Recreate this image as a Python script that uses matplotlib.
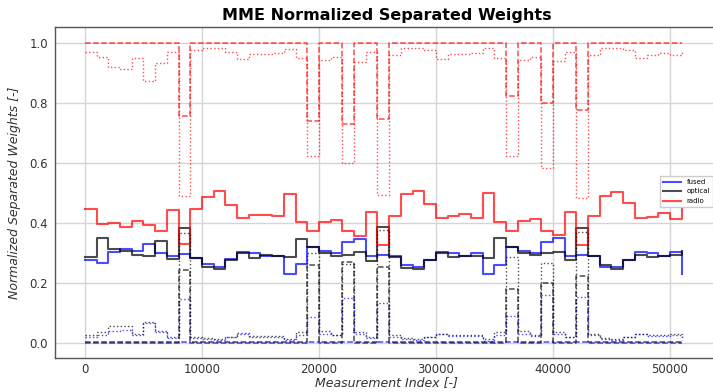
import numpy as np
import matplotlib
matplotlib.use("Agg")
import matplotlib.pyplot as plt

# measurement index of each step (steps of 1000 samples)
index = list(range(0, 52000, 1000))

# solid: normalized weights
fused = [0.276, 0.267, 0.303, 0.312, 0.307, 0.329, 0.300, 0.289, 0.296, 0.281, 0.261, 0.253, 0.278, 0.303, 0.300, 0.290, 0.289,
         0.228, 0.261, 0.318, 0.306, 0.300, 0.337, 0.345, 0.290, 0.292, 0.288, 0.260, 0.252, 0.276, 0.303, 0.298, 0.290, 0.300,
         0.228, 0.259, 0.318, 0.306, 0.300, 0.337, 0.348, 0.290, 0.291, 0.288, 0.252, 0.253, 0.276, 0.303, 0.298, 0.290, 0.303,
         0.230]
optical = [0.287, 0.348, 0.311, 0.306, 0.292, 0.289, 0.339, 0.278, 0.383, 0.281, 0.251, 0.244, 0.276, 0.298, 0.283, 0.292, 0.289,
           0.287, 0.346, 0.318, 0.300, 0.289, 0.292, 0.303, 0.273, 0.384, 0.284, 0.248, 0.244, 0.276, 0.298, 0.284, 0.289, 0.289,
           0.281, 0.348, 0.318, 0.300, 0.292, 0.298, 0.303, 0.276, 0.383, 0.289, 0.259, 0.246, 0.276, 0.292, 0.284, 0.289, 0.292,
           0.305]
radio = [0.444, 0.396, 0.398, 0.387, 0.407, 0.392, 0.372, 0.442, 0.329, 0.444, 0.484, 0.506, 0.459, 0.414, 0.426, 0.426, 0.422,
         0.496, 0.403, 0.373, 0.401, 0.409, 0.373, 0.357, 0.434, 0.326, 0.423, 0.494, 0.506, 0.462, 0.414, 0.422, 0.428, 0.414,
         0.498, 0.401, 0.373, 0.407, 0.411, 0.372, 0.359, 0.434, 0.326, 0.423, 0.489, 0.501, 0.464, 0.414, 0.420, 0.433, 0.411,
         0.465]

# dashed
fused_dashed = [0.0] * 8 + [0.003] + [0.0] * 10 + [0.003] + [0.0] * 2 + [0.003] + [0.0] * 2 + [0.003] + [0.0] * 10 + [0.003] + [0.0] * 2 + [0.003] + [0.0] * 2 + [0.003] + [0.0] * 9
optical_dashed = [0.001] * 8 + [0.242] + [0.001] * 10 + [0.260] + [0.001] * 2 + [0.268] + [0.001] * 2 + [0.253] + [0.001] * 10 + [0.178] + [0.001] * 2 + [0.200] + [0.001] * 2 + [0.222] + [0.001] * 9
radio_dashed = [1.0] * 8 + [0.757] + [1.0] * 10 + [0.740] + [1.0] * 2 + [0.729] + [1.0] * 2 + [0.744] + [1.0] * 10 + [0.822] + [1.0] * 2 + [0.800] + [1.0] * 2 + [0.776] + [1.0] * 9

# dotted
fused_dotted = [0.020, 0.026, 0.039, 0.042, 0.026, 0.065, 0.037, 0.017, 0.145, 0.015, 0.013, 0.009, 0.018, 0.028, 0.020, 0.020, 0.020,
                0.009, 0.026, 0.087, 0.028, 0.024, 0.150, 0.028, 0.017, 0.133, 0.020, 0.013, 0.010, 0.018, 0.028, 0.022, 0.022, 0.022,
                0.006, 0.025, 0.090, 0.030, 0.022, 0.159, 0.030, 0.018, 0.153, 0.025, 0.013, 0.010, 0.018, 0.028, 0.022, 0.022, 0.025,
                0.010]
optical_dotted = [0.026, 0.034, 0.056, 0.057, 0.028, 0.068, 0.039, 0.020, 0.365, 0.018, 0.017, 0.012, 0.020, 0.031, 0.023, 0.023, 0.023,
                  0.012, 0.035, 0.300, 0.039, 0.026, 0.262, 0.035, 0.020, 0.375, 0.026, 0.015, 0.012, 0.020, 0.030, 0.025, 0.025, 0.025,
                  0.012, 0.035, 0.287, 0.040, 0.026, 0.265, 0.035, 0.020, 0.370, 0.028, 0.017, 0.013, 0.020, 0.030, 0.025, 0.025, 0.028,
                  0.020]
radio_dotted = [0.968, 0.951, 0.920, 0.912, 0.950, 0.872, 0.931, 0.970, 0.490, 0.976, 0.981, 0.983, 0.970, 0.946, 0.961, 0.961, 0.964,
                0.979, 0.950, 0.623, 0.942, 0.953, 0.598, 0.934, 0.970, 0.492, 0.959, 0.983, 0.983, 0.976, 0.946, 0.961, 0.961, 0.964,
                0.983, 0.948, 0.623, 0.942, 0.953, 0.581, 0.939, 0.970, 0.481, 0.959, 0.983, 0.983, 0.976, 0.950, 0.959, 0.964, 0.959,
                0.976]

labels = ["fused", "optical", "radio"]
colors = ["blue", "black", "red"]

W, H = 713, 392
fig = plt.figure(figsize=(W / 100, H / 100), dpi=100)
ax = fig.add_axes([55 / W, 1 - 358 / H, (718 - 55) / W, (358 - 27) / H])

alpha = 0.7
for vals, c, lab in zip([fused, optical, radio], colors, labels):
    ax.step(index, vals, where="post", color=c, lw=1.5, alpha=alpha, label=lab)
for vals, c in zip([fused_dashed, optical_dashed, radio_dashed], colors):
    ax.step(index, vals, where="post", color=c, lw=1.1, ls="--", alpha=alpha)
for vals, c in zip([fused_dotted, optical_dotted, radio_dotted], colors):
    ax.step(index, vals, where="post", color=c, lw=1.0, ls=":", alpha=alpha)

ax.set_xlim(-2564, -2564 + (718 - 55) / 0.0117)
ax.set_ylim(-0.051, 1.052)
ax.set_xticks([0, 10000, 20000, 30000, 40000, 50000])
ax.set_yticks([0.0, 0.2, 0.4, 0.6, 0.8, 1.0])
ax.set_yticklabels(["0.0", "0.2", "0.4", "0.6", "0.8", "1.0"])
ax.grid(True, color="#d5d5d5", lw=1.0)
ax.set_axisbelow(True)
ax.tick_params(length=0, labelsize=8.5, labelcolor="#333333", pad=3.5)
ax.tick_params(axis="y", pad=5)
for s in ax.spines.values():
    s.set_color("#555555")
    s.set_linewidth(1.0)

ax.set_title("MME Normalized Separated Weights", fontsize=11.5, fontweight="bold", pad=5)
ax.set_xlabel("Measurement Index [-]", fontsize=9, style="italic", color="#333333", labelpad=0)
ax.set_ylabel("Normalized Separated Weights [-]", fontsize=9, style="italic", color="#333333", labelpad=6)

leg = ax.legend(loc="center left", bbox_to_anchor=(660 / W, 1 - 191.5 / H), bbox_transform=fig.transFigure,
                fontsize=5, handlelength=2.6, borderaxespad=0, frameon=True, fancybox=False,
                edgecolor="#cccccc", framealpha=1.0)

fig.savefig("out.png", dpi=100)
